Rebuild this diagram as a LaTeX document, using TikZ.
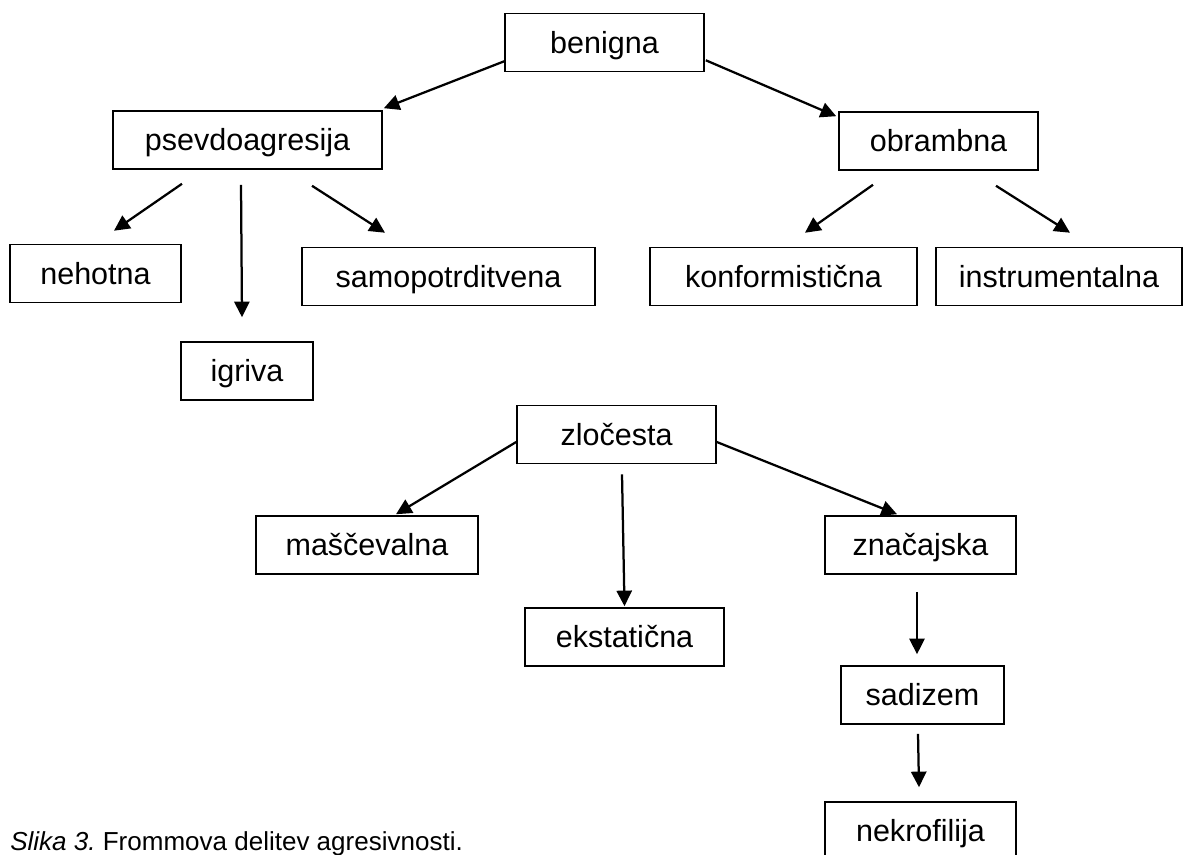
\documentclass[tikz,border=0pt]{standalone}
\usepackage{fontspec}
\setmainfont{Liberation Sans}
\usetikzlibrary{arrows.meta}
\definecolor{linija}{RGB}{0, 0, 0}
\frenchspacing

\tikzset{
  box/.style={draw=linija, line width=1.1pt, minimum height=1.45cm, inner sep=0pt,
    text height=0.525cm, text depth=0pt, font=\fontsize{21.7}{26}\selectfont},
  arr/.style={-{Triangle[length=0.39cm, width=0.38cm]}, line width=1.6pt, linija},
}

\begin{document}
\begin{tikzpicture}[x=0.025cm, y=-0.025cm]
        \useasboundingbox (0,0) rectangle (1187,854);

        % benigna in njene vrste
        \node[box, minimum width=4.975cm] (benigna) at (604.5,42.5) {benigna};
        \node[box, minimum width=6.725cm] (psevdo) at (247.5,140) {psevdoagresija};
        \node[box, minimum width=4.975cm] (obrambna) at (938.5,141) {obrambna};

        % psevdoagresija
        \node[box, minimum width=4.275cm] (nehotna) at (95.5,273.5) {nehotna};
        \node[box, minimum width=3.3cm] (igriva) at (247,371) {igriva};
        \node[box, minimum width=7.325cm] (samopotrd) at (448.5,276.5) {samopotrditvena};

        % obrambna
        \node[box, minimum width=6.675cm] (konform) at (783.5,276.5) {konformistična};
        \node[box, minimum width=6.15cm] (instrum) at (1059,276.5) {instrumentalna};

        % zločesta in njene vrste
        \node[box, minimum width=4.975cm] (zlocesta) at (616.5,434.5) {zločesta};
        \node[box, minimum width=5.55cm] (mascev) at (367,545) {maščevalna};
        \node[box, minimum width=4.975cm] (ekstat) at (624.5,637) {ekstatična};
        \node[box, minimum width=4.775cm] (znacaj) at (920.5,545) {značajska};
        \node[box, minimum width=4.075cm] (sadizem) at (922.5,695) {sadizem};
        \node[box, minimum width=4.775cm] (nekrof) at (920.5,831) {nekrofilija};

        % puščice
        \draw[arr] ([shift={(0,-11)}]benigna.south west) -- ([shift={(1,-2)}]psevdo.north east);
        \draw[arr] ([shift={(1,-12)}]benigna.south east) -- ([shift={(-2,5)}]obrambna.north west);
        \draw[arr] ([shift={(-65.5,14)}]psevdo.south) -- ([shift={(18.5,-13)}]nehotna.north);
        \draw[arr] ([shift={(-6.5,15)}]psevdo.south) -- ([shift={(-5,-24)}]igriva.north);
        \draw[arr] ([shift={(64.5,16)}]psevdo.south) -- ([shift={(-63.5,-14)}]samopotrd.north);
        \draw[arr] ([shift={(-65.5,14)}]obrambna.south) -- ([shift={(21.5,-14)}]konform.north);
        \draw[arr] ([shift={(57.5,15)}]obrambna.south) -- ([shift={(11,-14)}]instrum.north);
        \draw[arr] ([shift={(0,7.5)}]zlocesta.west) -- ([shift={(29,-1)}]mascev.north);
        \draw[arr] ([shift={(5.5,10)}]zlocesta.south) -- ([shift={(0,-1)}]ekstat.north);
        \draw[arr] ([shift={(0,7.5)}]zlocesta.east) -- ([shift={(-23.5,-1)}]znacaj.north);
        \draw[arr] ([shift={(-3.5,17)}]znacaj.south) -- ([shift={(-5.5,-11)}]sadizem.north);
        \draw[arr] ([shift={(-4.5,9)}]sadizem.south) -- ([shift={(-1.5,-14)}]nekrof.north);

        % napis
        \node[anchor=base west, inner sep=0pt, font=\fontsize{18.5}{22}\selectfont] (napis) at (10,850)
          {\textit{Slika 3.}\ Frommova delitev agresivnosti.};
\end{tikzpicture}
\end{document}
